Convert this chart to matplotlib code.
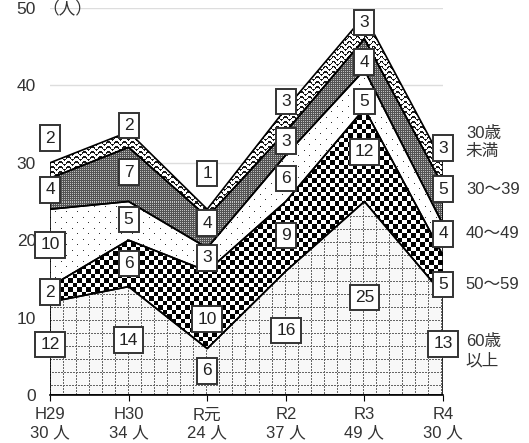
import numpy as np
import matplotlib.pyplot as plt
from matplotlib.path import Path

plt.rcParams['font.family'] = ['Liberation Sans', 'Noto Sans CJK JP', 'DejaVu Sans']

# データ
years = ['H29', 'H30', 'R元', 'R2', 'R3', 'R4']
totals = [30, 34, 24, 37, 49, 30]
age_60 = [12, 14, 6, 16, 25, 13]
age_50 = [2, 6, 10, 9, 12, 5]
age_40 = [10, 5, 3, 6, 5, 4]
age_30 = [4, 7, 4, 3, 4, 5]
age_u30 = [2, 2, 1, 3, 3, 3]
legend_names = ['60歳\n以上', '50～59', '40～49', '30～39', '30歳\n未満']

# 数字ラベルのy位置（年ごと、下から）
label_y = [
    [6.5, 13.3, 19.4, 26.5, 33.2],
    [7.1, 17.0, 22.7, 28.8, 34.8],
    [3.1, 9.8, 17.7, 22.2, 28.6],
    [8.3, 20.6, 28.0, 32.8, 37.9],
    [12.6, 31.4, 37.9, 43.0, 48.1],
    [6.6, 14.3, 20.8, 26.6, 31.9],
]
legend_y = [5.7, 14.3, 20.9, 26.6, 32.6]

series = [age_60, age_50, age_40, age_30, age_u30]

fig = plt.figure(figsize=(5.29, 4.43), dpi=100)
ax = fig.add_axes([0.0945, 0.1084, 0.743, 0.8736])
ax.set_xlim(0, 5)
ax.set_ylim(0, 50)

# 模様（ピクセル単位）
W, H = 393, 387
yy, xx = np.mgrid[0:H, 0:W]

grid = np.full((H, W), 0.97)
grid[((xx % 13 == 0) | (yy % 13 == 0)) & ((xx + yy) % 3 != 2)] = 0.4

checker = ((np.floor(xx / 4.5) + np.floor(yy / 4.5)) % 2).astype(float)

dots = np.ones((H, W))
dots[(yy % 11 == 0) & (xx % 11 == 0)] = 0.2
dots[(yy % 11 == 5) & (xx % 11 == 5)] = 0.2

dark = np.full((H, W), 0.33)
dark[(yy % 2 == 0) & (xx % 2 == 0)] = 0.75

wave = np.ones((H, W))
d = (yy + 1.6 * np.sin(2 * np.pi * xx / 8.0)) % 5
wave[d < 1.6] = 0.1

patterns = [grid, checker, dots, dark, wave]

x = np.arange(len(years))
bottom = np.zeros(len(years))
for vals, pat in zip(series, patterns):
    top = bottom + np.array(vals)
    poly = ax.fill_between(x, bottom, top, facecolor='none', edgecolor='black',
                           linewidth=1.2, zorder=3)
    im = ax.imshow(pat, extent=[0, 5, 0, 50], origin='upper', cmap='gray',
                   vmin=0, vmax=1, interpolation='nearest', aspect='auto', zorder=2)
    im.set_clip_path(Path(poly.get_paths()[0].vertices), transform=ax.transData)
    bottom = top

ax.set_xlim(0, 5)
ax.set_ylim(0, 50)

# 数字ラベル
for i in range(len(years)):
    for j, vals in enumerate(series):
        ax.text(i, label_y[i][j], str(vals[i]), ha='center', va='center', fontsize=12.5,
                color='#222222', zorder=5,
                bbox=dict(boxstyle='square,pad=0.3', facecolor='white',
                          edgecolor='#333333', linewidth=1.4))

# 右側の凡例
for name, yv in zip(legend_names, legend_y):
    ax.text(5.29, yv, name, ha='left', va='center', fontsize=12, color='#333333',
            linespacing=1.3, clip_on=False)

ax.set_yticks(range(0, 51, 10))
ax.set_xticks(x)
ax.set_xticklabels([f'{y}\n{t} 人' for y, t in zip(years, totals)])
ax.tick_params(axis='y', length=0, labelsize=12.5, labelcolor='#333333', pad=10)
ax.tick_params(axis='x', length=4, labelsize=12, labelcolor='#333333', pad=5)
for s in ['top', 'right', 'left']:
    ax.spines[s].set_visible(False)
ax.spines['bottom'].set_linewidth(1.2)
ax.spines['bottom'].set_zorder(6)
ax.grid(axis='y', color='#dddddd', linewidth=1, zorder=0)
ax.set_axisbelow(True)

ax.text(-0.1, 50, '（人）', ha='left', va='center', fontsize=12, color='#333333',
        clip_on=False)

fig.savefig('out.png', dpi=100)
